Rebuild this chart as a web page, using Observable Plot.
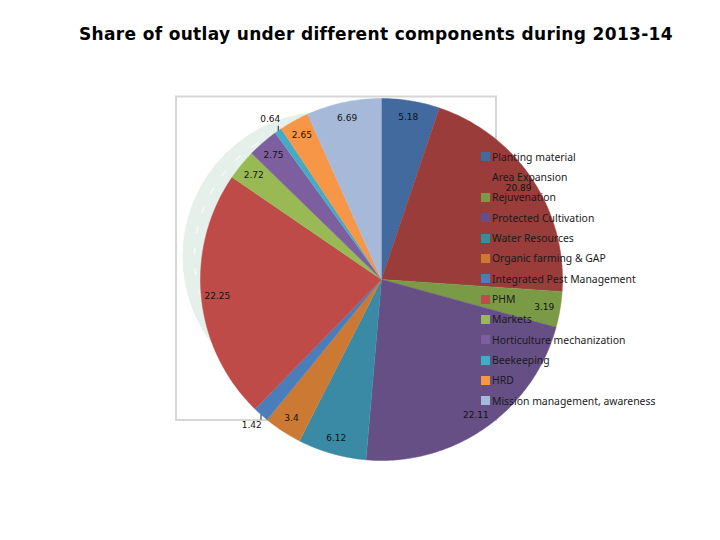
<!DOCTYPE html>
<html>
<head>
<meta charset="utf-8">
<script src="https://cdn.jsdelivr.net/npm/d3@7"></script>
<script src="https://cdn.jsdelivr.net/npm/@observablehq/plot@0.6"></script>
<style>
  html, body { margin: 0; padding: 0; background: #fff; }
  #root { position: relative; width: 720px; height: 540px; overflow: hidden; }
  #root svg { position: absolute; left: 0; top: 0; }
  #title { position: absolute; left: 79px; top: 23px; width: 620px; white-space: nowrap;
    font: bold 17px "DejaVu Sans", sans-serif; letter-spacing: 0.335px; color: #000; line-height: 22px; }
  #legend { position: absolute; left: 481px; top: 146.5px; font: 10.4px "Noto Sans", sans-serif; color: #1a1a1a; }
  .row { height: 20.35px; line-height: 20.35px; white-space: nowrap; display: flex; align-items: center; }
  .sw { width: 9px; height: 9px; margin-right: 2px; flex: none; }
</style>
</head>
<body>
<div id="root">
  <div id="title"></div>
  <div id="legend"></div>
</div>
<script>
const titleText = "Share of outlay under different components during 2013-14";
const components = ["Planting material", "Area Expansion", "Rejuvenation", "Protected Cultivation",
  "Water Resources", "Organic farming & GAP", "Integrated Pest Management", "PHM", "Markets",
  "Horticulture mechanization", "Beekeeping", "HRD", "Mission management, awareness"];
const shares = [5.18, 20.89, 3.19, 22.11, 6.12, 3.4, 1.42, 22.25, 2.72, 2.75, 0.64, 2.65, 6.69];
const colors = ["#426a9e", "#993c3a", "#7a9a45", "#664f85", "#3a8aa5", "#cc7a33", "#4a7ebb",
  "#be4b48", "#98b954", "#7d5fa0", "#46aac5", "#f79646", "#a7b9d9"];

// Layout: centre-relative units, one unit = one pixel.
const R = 181, labelR = 165, outsideR = 195;
const table = components.map((name, i) => ({name, value: shares[i]}));
const arcs = d3.pie().sort(null).value(d => d.value)(table);
const polar = (a, r) => [r * Math.sin(a), r * Math.cos(a)];

const slicePts = arcs.flatMap(s => {
  const n = Math.max(2, Math.ceil((s.endAngle - s.startAngle) * 60));
  const pts = [{name: s.data.name, p: [0, 0]}];
  for (let k = 0; k <= n; k++) {
    pts.push({name: s.data.name, p: polar(s.startAngle + (s.endAngle - s.startAngle) * k / n, R)});
  }
  return pts;
});
const labels = arcs.map(s => {
  const mid = (s.startAngle + s.endAngle) / 2;
  const outside = s.data.value < 2;
  return {text: String(s.data.value), p: polar(mid, outside ? outsideR : labelR), edge: polar(mid, R), outside};
});
const ticks = labels.filter(d => d.outside);

const chart = Plot.plot({
  width: 720, height: 540, margin: 0,
  x: {axis: null, domain: [-381, 339], range: [0, 720]},
  y: {axis: null, domain: [279, -261], range: [0, 540]},
  color: {domain: components, range: colors},
  style: {background: "transparent", fontFamily: "'DejaVu Sans', sans-serif"},
  marks: [
    Plot.rect([{}], {x1: -205, x2: 115, y1: 182.5, y2: -141, fill: "#fff", stroke: "#d6d6d6", strokeWidth: 2}),
    Plot.dot([{}], {x: -54, y: 23, r: 145, fill: "#e6f0ea"}),
    Plot.dot([{}], {x: -54, y: 23, r: 133, fill: "none", stroke: "#fff", strokeOpacity: 0.6, strokeWidth: 1.5, strokeDasharray: "7 14"}),
    Plot.line(slicePts, {x: d => d.p[0], y: d => d.p[1], z: "name", fill: "name", stroke: "name", strokeWidth: 0.5}),
    Plot.link(ticks, {x1: d => d.edge[0], x2: d => d.edge[0], y1: d => d.edge[1], y2: d => d.edge[1] + Math.sign(d.edge[1]) * 5, stroke: "#222", strokeWidth: 1}),
    Plot.text(labels, {x: d => d.p[0], y: d => d.p[1], text: "text", fontSize: 9, fill: "#111"})
  ]
});
const root = document.getElementById("root");
root.insertBefore(chart, root.firstChild);
document.getElementById("title").textContent = titleText;
const legend = document.getElementById("legend");
components.forEach((name, i) => {
  const row = document.createElement("div"); row.className = "row";
  const sw = document.createElement("span"); sw.className = "sw"; sw.style.background = colors[i];
  const tx = document.createElement("span"); tx.textContent = name;
  row.append(sw, tx); legend.append(row);
});
</script>
</body>
</html>
